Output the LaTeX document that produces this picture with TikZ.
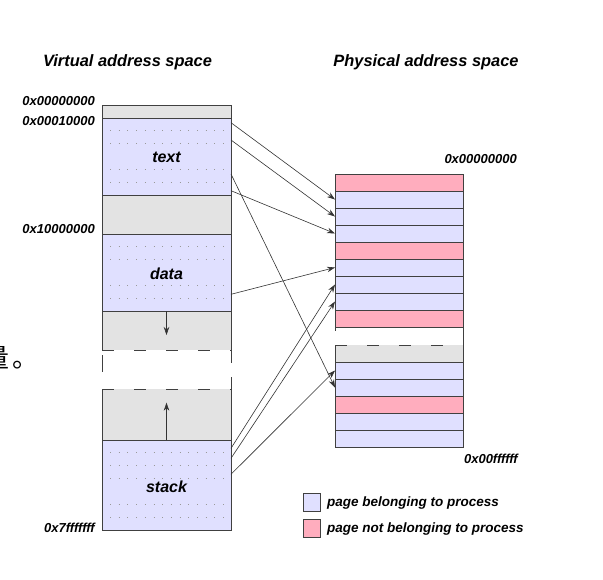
\documentclass[tikz,border=0pt]{standalone}
\usepackage{fontspec}
\setmainfont{Liberation Sans}
\newfontfamily\cjk{Noto Sans CJK SC}
\usetikzlibrary{arrows.meta}
\definecolor{pagein}{RGB}{224,224,255}
\definecolor{pageout}{RGB}{255,173,190}
\definecolor{pagefree}{RGB}{227,227,227}
\definecolor{edge}{RGB}{64,64,64}
\begin{document}
\begin{tikzpicture}[x=1pt,y=1pt,
  seg/.style={draw=edge, line width=0.9pt, minimum width=129pt, inner sep=0pt, outer sep=0pt, font=\fontsize{16}{18}\selectfont\bfseries\itshape},
  frame/.style={draw=edge, line width=0.9pt, minimum width=128pt, minimum height=17pt, inner sep=0pt, outer sep=0pt},
  rim/.style={draw=edge, line width=0.9pt},
  subpage/.style={draw=black!40, line width=1pt, dash pattern=on 1pt off 7.7pt},
  gapline/.style={draw=edge, line width=0.9pt, dash pattern=on 12pt off 20pt},
  map/.style={draw=black!80, line width=0.6pt, -{Stealth[length=8pt,width=5.5pt]}},
  addr/.style={font=\fontsize{13}{15}\selectfont\bfseries\itshape, anchor=east, inner sep=0pt},
  legend/.style={font=\fontsize{13.5}{15}\selectfont\bfseries\itshape, anchor=base west, inner sep=0pt},
  title/.style={font=\fontsize{16.4}{18}\selectfont\bfseries\itshape, inner sep=0pt}]
\useasboundingbox (0,0) rectangle (603,-579);
% titles
\node[title] (vtitle) at (127.5,-62) {Virtual address space};
\node[title] (ptitle) at (426,-62) {Physical address space};
% virtual address space
\node[seg, fill=pagefree, minimum height=13pt] (vzero) at (166.5,-111.5) {};
\node[seg, fill=pagein, minimum height=77pt] (vtext) at (166.5,-156.5) {};
\node[seg, fill=pagefree, minimum height=39pt] (vhole) at (166.5,-214.5) {};
\node[seg, fill=pagein, minimum height=77pt] (vdata) at (166.5,-272.5) {};
\node[seg, draw=none, fill=pagefree, minimum height=39pt] (vheap) at (166.5,-330.5) {};
\node[seg, draw=none, fill=pagefree, minimum height=51pt] (vgrow) at (166.5,-414.5) {};
\node[seg, fill=pagein, minimum height=90pt] (vstack) at (166.5,-485) {};
\draw[rim] (vheap.south west) -- (vheap.north west) -- (vheap.north east) -- (vheap.south east);
\draw[rim] (vgrow.north west) -- (vgrow.south west) -- (vgrow.south east) -- (vgrow.north east);
\draw[gapline] (vheap.south west) -- (vheap.south east);
\draw[gapline] (vgrow.north west) -- (vgrow.north east);
\draw[rim] (102,-355) -- (102,-372);
\draw[rim] (231,-350) -- (231,-363);
\draw[rim] (231,-377) -- (231,-389);
% sub-pages
\draw[subpage] (110,-130.8) -- (231,-130.8);
\draw[subpage] (110,-143.7) -- (231,-143.7);
\draw[subpage] (110,-169.3) -- (231,-169.3);
\draw[subpage] (110,-182.2) -- (231,-182.2);
\draw[subpage] (110,-246.8) -- (231,-246.8);
\draw[subpage] (110,-259.7) -- (231,-259.7);
\draw[subpage] (110,-285.3) -- (231,-285.3);
\draw[subpage] (110,-298.2) -- (231,-298.2);
\draw[subpage] (110,-452.9) -- (231,-452.9);
\draw[subpage] (110,-465.7) -- (231,-465.7);
\draw[subpage] (110,-478.6) -- (231,-478.6);
\draw[subpage] (110,-504.3) -- (231,-504.3);
\draw[subpage] (110,-517.1) -- (231,-517.1);
% segment names
\node[seg, draw=none] (ltext) at (166.5,-157.5) {text};
\node[seg, draw=none] (ldata) at (166.5,-273.5) {data};
\node[seg, draw=none] (lstack) at (166.5,-487) {stack};
% growth arrows
\coordinate (heaptip) at (166.5,-335);
\coordinate (stacktip) at (166.5,-402.7);
\draw[map] (vheap.north) -- (heaptip);
\draw[map] (vstack.north) -- (stacktip);
% virtual addresses
\node[addr] (a0) at (95,-101) {0x00000000};
\node[addr] (a1) at (95,-121.5) {0x00010000};
\node[addr] (a2) at (95,-229.5) {0x10000000};
\node[addr] (a3) at (95,-528) {0x7fffffff};
% physical address space
\node[frame, fill=pageout] (p1) at (399,-182.5) {};
\node[frame, fill=pagein] (p2) at (399,-199.5) {};
\node[frame, fill=pagein] (p3) at (399,-216.5) {};
\node[frame, fill=pagein] (p4) at (399,-233.5) {};
\node[frame, fill=pageout] (p5) at (399,-250.5) {};
\node[frame, fill=pagein] (p6) at (399,-267.5) {};
\node[frame, fill=pagein] (p7) at (399,-284.5) {};
\node[frame, fill=pagein] (p8) at (399,-301.5) {};
\node[frame, fill=pageout] (p9) at (399,-318.5) {};
\node[frame, draw=none, fill=pagefree] (q0) at (399,-353.5) {};
\node[frame, fill=pagein] (q1) at (399,-370.5) {};
\node[frame, fill=pagein] (q2) at (399,-387.5) {};
\node[frame, fill=pageout] (q3) at (399,-404.5) {};
\node[frame, fill=pagein] (q4) at (399,-421.5) {};
\node[frame, fill=pagein] (q5) at (399,-438.5) {};
\draw[rim] (q0.north west) -- (q0.south west) -- (q0.south east) -- (q0.north east);
\draw[gapline] (q0.north west) -- (q0.north east);
\draw[rim] (p9.south east) -- (q0.north east);
\draw[rim] (p9.south west) -- ++(0,-4);
\node[addr] (b0) at (517,-159) {0x00000000};
\node[addr] (b1) at (518,-459) {0x00ffffff};
% mappings
\coordinate (t1) at (231,-122.7);
\coordinate (t2) at (231,-140);
\coordinate (t3) at (231,-174);
\coordinate (t4) at (231,-190.7);
\coordinate (d1) at (231,-294.3);
\coordinate (s1) at (231,-448.3);
\coordinate (s2) at (231,-458.3);
\coordinate (s3) at (231,-474.3);
\draw[map] (t1) -- (p2.west);
\draw[map] (t2) -- (p3.west);
\draw[map] (t3) -- (q2.west);
\draw[map] (t4) -- (p4.west);
\draw[map] (d1) -- (p6.west);
\draw[map] (s1) -- (p7.west);
\draw[map] (s2) -- (p8.west);
\draw[map] (s3) -- (q1.west);
% legend
\node[frame, fill=pagein, minimum width=17pt, minimum height=18pt] (lin) at (311.5,-502) {};
\node[frame, fill=pageout, minimum width=17pt, minimum height=18pt] (lout) at (311.5,-528) {};
\node[legend] (linlabel) at (327,-506) {page belonging to process};
\node[legend] (loutlabel) at (327,-532) {page not belonging to process};
% clipped remnant at the left edge
\node[anchor=base west, inner sep=0pt, font=\cjk\fontsize{26}{28}\selectfont] (stray) at (-17,-367) {量\hspace{3pt}。};
\end{tikzpicture}
\end{document}
